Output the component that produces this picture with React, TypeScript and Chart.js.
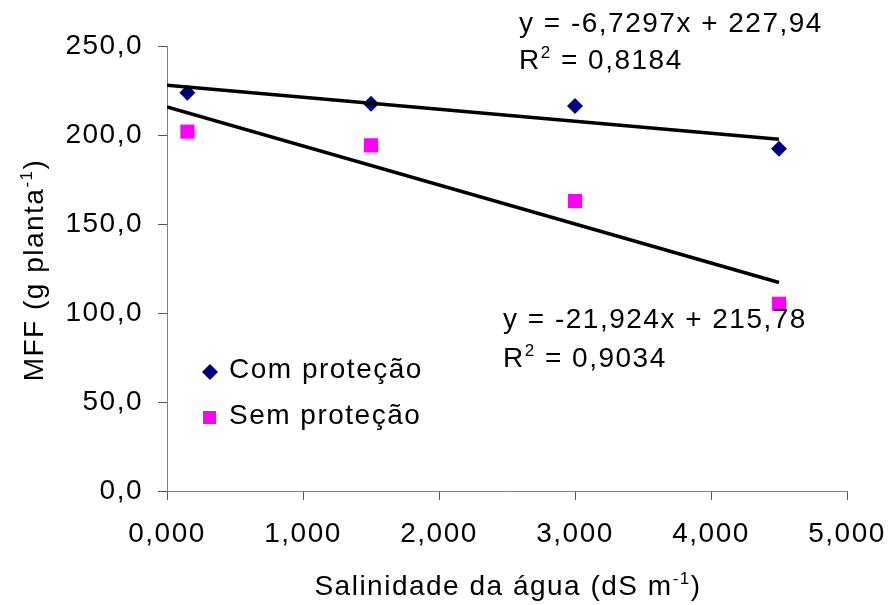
import React, { useEffect, useRef } from 'react';
import { Chart, registerables } from 'chart.js';

Chart.register(...registerables);

const FONT = '"Liberation Sans", Arial, sans-serif';
const LETTER_SPACING = '1.5px';

// Data
const salinity = [0.15, 1.5, 3.0, 4.5];
const comProtecao = [223.8, 217.6, 216.3, 192.3];
const semProtecao = [201.9, 194.2, 162.9, 105.2];
const seriesNames = ['Com proteção', 'Sem proteção'];
const trendCom = { slope: -6.7297, intercept: 227.94 };
const trendSem = { slope: -21.924, intercept: 215.78 };
const trendRange = [0, 4.5];
const xTicksMax = 5;
const yTicksMax = 250;

type Seg = [string, boolean];
const eqComText: Seg[] = [['y = -6,7297x + 227,94', false]];
const r2ComText: Seg[] = [['R', false], ['2', true], [' = 0,8184', false]];
const eqSemText: Seg[] = [['y = -21,924x + 215,78', false]];
const r2SemText: Seg[] = [['R', false], ['2', true], [' = 0,9034', false]];
const xTitle: Seg[] = [['Salinidade da água (dS m', false], ['-1', true], [')', false]];
const yTitle: Seg[] = [['MFF (g planta', false], ['-1', true], [')', false]];

const COM_COLOR = '#000080';
const SEM_COLOR = '#FF00FF';

function richWidth(ctx: CanvasRenderingContext2D, segs: Seg[], size: number) {
  let w = 0;
  for (const [t, sup] of segs) {
    ctx.font = `${sup ? Math.round(size * 0.62) : size}px ${FONT}`;
    w += ctx.measureText(t).width;
  }
  return w;
}

function drawRich(
  ctx: CanvasRenderingContext2D,
  segs: Seg[],
  x: number,
  baseline: number,
  size: number,
  align: 'left' | 'center' = 'left'
) {
  const total = richWidth(ctx, segs, size);
  let cx = align === 'center' ? x - total / 2 : x;
  ctx.textAlign = 'left';
  ctx.textBaseline = 'alphabetic';
  ctx.fillStyle = '#000';
  for (const [t, sup] of segs) {
    const s = sup ? Math.round(size * 0.62) : size;
    ctx.font = `${s}px ${FONT}`;
    ctx.fillText(t, cx, sup ? baseline - size * 0.4 : baseline);
    cx += ctx.measureText(t).width;
  }
}

const spacingPlugin = {
  id: 'spacing',
  beforeDraw(chart: any) {
    (chart.ctx as any).letterSpacing = LETTER_SPACING;
  },
};

const overlayPlugin = {
  id: 'overlay',
  afterDraw(chart: any) {
    const ctx: CanvasRenderingContext2D = chart.ctx;
    ctx.save();
    (ctx as any).letterSpacing = LETTER_SPACING;
    // equations
    drawRich(ctx, eqComText, 519, 32, 28);
    drawRich(ctx, r2ComText, 519, 69, 28);
    drawRich(ctx, eqSemText, 503, 328, 28);
    drawRich(ctx, r2SemText, 503, 367, 28);

    // legend
    ctx.fillStyle = COM_COLOR;
    ctx.beginPath();
    ctx.moveTo(210, 364);
    ctx.lineTo(218, 372);
    ctx.lineTo(210, 380);
    ctx.lineTo(202, 372);
    ctx.closePath();
    ctx.fill();
    ctx.fillStyle = SEM_COLOR;
    ctx.fillRect(203, 411, 13, 13);
    drawRich(ctx, [[seriesNames[0], false]], 229, 378, 28);
    drawRich(ctx, [[seriesNames[1], false]], 229, 424, 28);

    // axis titles
    drawRich(ctx, xTitle, 508, 595, 28, 'center');
    ctx.translate(43, 270);
    ctx.rotate(-Math.PI / 2);
    drawRich(ctx, yTitle, 0, 0, 28, 'center');
    ctx.restore();
  },
};

export default function App() {
  const ref = useRef<HTMLCanvasElement | null>(null);

  useEffect(() => {
    document.body.style.margin = '0';
    const canvas = ref.current!;
    const trendPts = (t: { slope: number; intercept: number }) =>
      trendRange.map((x) => ({ x, y: t.intercept + t.slope * x }));

    const chart = new Chart(canvas, {
      type: 'scatter',
      data: {
        datasets: [
          {
            label: 'trendCom',
            type: 'line',
            data: trendPts(trendCom),
            borderColor: '#000',
            borderWidth: 3.5,
            pointRadius: 0,
            fill: false,
          } as any,
          {
            label: 'trendSem',
            type: 'line',
            data: trendPts(trendSem),
            borderColor: '#000',
            borderWidth: 3.5,
            pointRadius: 0,
            fill: false,
          } as any,
          {
            label: seriesNames[0],
            data: salinity.map((x, i) => ({ x, y: comProtecao[i] })),
            pointStyle: 'rectRot',
            pointRadius: 8,
            backgroundColor: COM_COLOR,
            borderColor: COM_COLOR,
            borderWidth: 0,
          },
          {
            label: seriesNames[1],
            data: salinity.map((x, i) => ({ x, y: semProtecao[i] })),
            pointStyle: 'rect',
            pointRadius: 10,
            backgroundColor: SEM_COLOR,
            borderColor: SEM_COLOR,
            borderWidth: 0,
          },
        ],
      },
      options: {
        animation: false,
        responsive: false,
        maintainAspectRatio: false,
        layout: { padding: { top: 46, right: 41, left: 0, bottom: 0 } },
        plugins: { legend: { display: false }, tooltip: { enabled: false } },
        scales: {
          x: {
            type: 'linear',
            min: 0,
            max: xTicksMax,
            ticks: {
              stepSize: 1,
              maxRotation: 0,
              padding: 17,
              color: '#000',
              font: { size: 28, family: FONT },
              callback: (v: any) => Number(v).toFixed(3).replace('.', ','),
            },
            grid: { drawOnChartArea: false, tickLength: 9, color: '#555' },
            border: { color: '#808080', width: 1 },
            afterFit: (s: any) => {
              s.height = 114;
              s.paddingLeft = 0;
              s.paddingRight = 0;
            },
          },
          y: {
            min: 0,
            max: yTicksMax,
            ticks: {
              stepSize: 50,
              padding: 15,
              color: '#000',
              font: { size: 28, family: FONT },
              callback: (v: any) => Number(v).toFixed(1).replace('.', ','),
            },
            grid: { drawOnChartArea: false, tickLength: 9, color: '#555' },
            border: { color: '#808080', width: 1 },
            afterFit: (s: any) => {
              s.width = 167;
              s.paddingTop = 0;
              s.paddingBottom = 0;
            },
          },
        },
      },
      plugins: [spacingPlugin, overlayPlugin],
    });
    return () => chart.destroy();
  }, []);

  return (
    <div style={{ width: 888, height: 605, background: '#fff' }}>
      <canvas ref={ref} width={888} height={605} style={{ display: 'block', width: 888, height: 605 }} />
    </div>
  );
}
